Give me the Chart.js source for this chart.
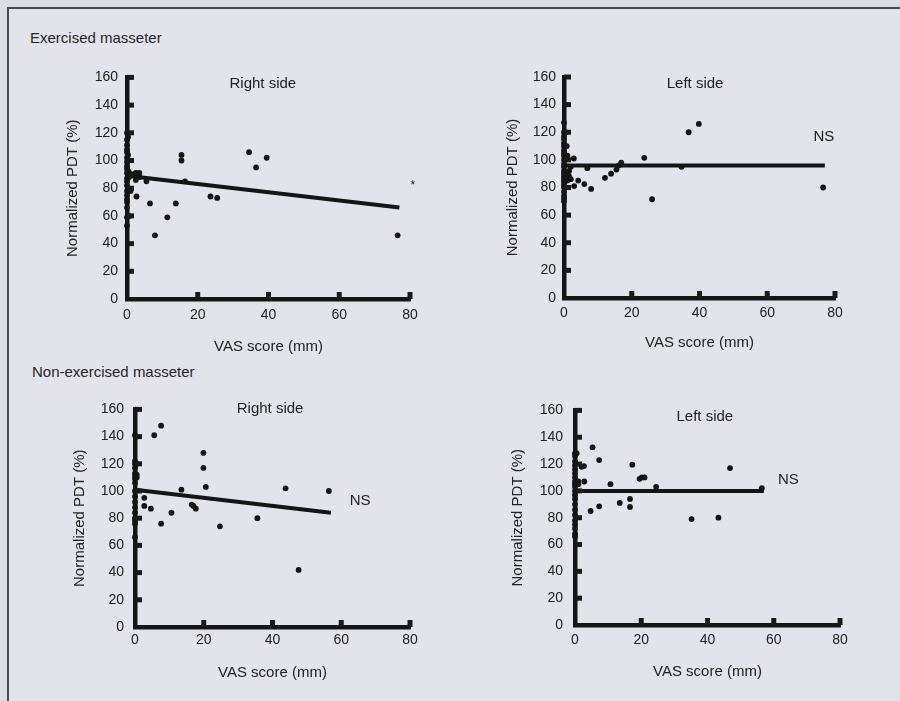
<!DOCTYPE html>
<html>
<head>
<meta charset="utf-8">
<script src="https://cdn.jsdelivr.net/npm/chart.js@4.4.0/dist/chart.umd.min.js"></script>
<style>
    body { margin: 0; background: #dcdde3; }
    #page { position: relative; width: 900px; height: 701px; overflow: hidden; }
    #frame { position: absolute; left: 7px; top: 7px; width: 900px; height: 700px;
             border-left: 2px solid #4a4a4a; border-top: 2px solid #4a4a4a; background: #e3e4eb; }
    .lbl { position: absolute; font: 15px 'Liberation Sans', Arial, sans-serif; color: #262626; white-space: nowrap; }
    canvas { position: absolute; }
</style>
</head>
<body>
<div id="page">
    <div id="frame"></div>
    <div class="lbl" style="left:30px; top:29px;">Exercised masseter</div>
    <div class="lbl" style="left:32px; top:363px;">Non-exercised masseter</div>
    <canvas id="exRight" width="420" height="300" style="left:40px; top:60px;"></canvas>
    <canvas id="exLeft" width="400" height="300" style="left:480px; top:60px;"></canvas>
    <canvas id="nonRight" width="420" height="300" style="left:40px; top:390px;"></canvas>
    <canvas id="nonLeft" width="400" height="300" style="left:480px; top:390px;"></canvas>
</div>

<script>
// Общие деления осей
const xTicks = [0, 20, 40, 60, 80];
const yTicks = [0, 20, 40, 60, 80, 100, 120, 140, 160];

// Exercised masseter, правая сторона
const exRightVas = [0, 0, 0, 0, 0, 0, 0, 0, 0, 0, 0, 0, 0, 0, 0, 0, 0, 0, 0, 0,
    0.3, 0.3, 0.3, 0.6, 0.6,
    0.5, 1, 1.5, 2.5, 2.5, 2.7, 3.5, 3.5, 5.5, 6.5, 7.9, 11.4, 13.8, 15.4, 15.4, 16.4, 23.6, 25.5, 34.5, 36.5, 39.5, 76.5];
const exRightPdt = [120, 115, 111, 108, 106, 102, 99, 96, 94, 91, 87, 85, 82, 78, 75, 72, 70, 66, 59, 53,
    117, 104, 80, 88, 60,
    92, 78, 90, 86, 91, 74, 91, 88, 85, 69, 46, 59, 69, 104, 100, 85, 74, 73, 106, 95, 102, 46];
const exRightFitVas = [0, 77];
const exRightFitPdt = [89, 66];

// Exercised masseter, левая сторона
const exLeftVas = [0, 0, 0, 0, 0, 0, 0, 0, 0, 0, 0, 0, 0, 0, 0, 0, 0, 0, 0, 0, 0, 0, 0,
    0.5, 0.8, 1, 1, 1.5, 2, 1, 1.5, 2, 2.9, 3, 4.2, 6, 6.9, 8, 12.1, 13.9, 15.5, 16.2, 16.9, 23.7, 26, 34.7, 36.8, 39.8, 76.5];
const exLeftPdt = [127, 120, 117, 115, 112, 110, 107, 105, 103, 100, 97, 95, 92, 90, 88, 86, 84, 82, 80, 77, 74, 72, 70,
    120, 110, 103, 90, 88, 86, 85, 92, 95, 101, 81, 85, 82.5, 94, 79, 87, 90, 93, 96, 98, 101.5, 71.5, 95, 120, 126, 80];
const exLeftFitVas = [0, 77];
const exLeftFitPdt = [96, 96];

// Non-exercised masseter, правая сторона
const nonRightVas = [0, 0, 0, 0, 0, 0, 0, 0, 0, 0, 0, 0, 0, 0, 0, 0, 0, 0.5, 0.5, 0.5, 0.5,
    2.7, 2.7, 4.6, 5.6, 7.6, 7.6, 10.6, 13.5, 16.5, 17, 17.7, 19.9, 19.9, 20.6, 24.7, 35.6, 43.8, 47.6, 56.4];
const nonRightPdt = [141, 122, 120, 117, 113, 111, 109, 106, 100, 96, 92, 88, 84, 80, 78, 76, 66, 140, 120, 110, 112,
    95, 89, 87, 141, 148, 76, 84, 101, 90, 89, 87, 128, 117, 103, 74, 80, 102, 42, 100];
const nonRightFitVas = [0, 57];
const nonRightFitPdt = [101, 84];

// Non-exercised masseter, левая сторона
const nonLeftVas = [0, 0, 0, 0, 0, 0, 0, 0, 0, 0, 0, 0, 0, 0, 0, 0, 0, 0, 0, 0, 0,
    0.5, 1, 1, 2, 2.8, 2.7, 4.7, 5.3, 7.3, 7.3, 10.7, 13.5, 16.6, 16.6, 17.3, 19.5, 20.2, 21, 24.5, 35.2, 43.3, 46.8, 56.4];
const nonLeftPdt = [128, 126, 122, 119, 116, 113, 110, 107, 105, 103, 100, 97, 94, 90, 86, 82, 78, 75, 72, 68, 66,
    128, 107, 105, 118, 107, 118.5, 85, 132.5, 123, 88.5, 105, 91, 94, 88, 119.5, 109, 110, 110, 103, 79, 80, 117, 102];
const nonLeftFitVas = [0, 57];
const nonLeftFitPdt = [100, 100];

const INK = '#222222';
const FONT = "'Liberation Sans', Arial, sans-serif";

function toPoints(xs, ys) {
    return xs.map((x, i) => ({ x: x, y: ys[i] }));
}

// Метки внутри области графика и засечки внутрь осей
const panelDecor = {
    id: 'panelDecor',
    afterDraw(chart, args, opts) {
        const ctx = chart.ctx;
        const xs = chart.scales.x, ys = chart.scales.y;
        const x0 = xs.getPixelForValue(0), y0 = ys.getPixelForValue(0);
        ctx.save();
        ctx.fillStyle = '#1a1a1a';
        yTicks.forEach(v => {
            if (v === 0) return;
            const py = ys.getPixelForValue(v);
            ctx.fillRect(x0, py - 2.5, 7, 5);
        });
        xTicks.forEach(v => {
            if (v === 0) return;
            const px = xs.getPixelForValue(v);
            ctx.fillRect(px - 2.5, y0 - 7, 5, 7);
        });
        ctx.fillStyle = INK;
        ctx.textAlign = 'center';
        ctx.textBaseline = 'middle';
        (opts.notes || []).forEach(n => {
            ctx.font = (n.size || 15) + 'px ' + FONT;
            ctx.fillText(n.text, xs.getPixelForValue(n.x), ys.getPixelForValue(n.y));
        });
        ctx.restore();
    }
};

function makePanel(id, vas, pdt, fitVas, fitPdt, box, notes) {
    const ctx = document.getElementById(id).getContext('2d');
    return new Chart(ctx, {
        type: 'scatter',
        data: {
            datasets: [
                {
                    data: toPoints(vas, pdt),
                    backgroundColor: '#151515',
                    borderWidth: 0,
                    pointRadius: 2.9,
                    clip: false
                },
                {
                    type: 'line',
                    data: toPoints(fitVas, fitPdt),
                    borderColor: '#151515',
                    borderWidth: 4,
                    pointRadius: 0,
                    fill: false,
                    clip: false
                }
            ]
        },
        options: {
            responsive: false,
            devicePixelRatio: 1,
            animation: false,
            events: [],
            layout: { padding: { top: box.padTop, right: box.padRight, bottom: 0, left: 0 } },
            plugins: {
                legend: { display: false },
                tooltip: { enabled: false },
                panelDecor: { notes: notes }
            },
            scales: {
                x: {
                    type: 'linear',
                    min: 0,
                    max: 80,
                    afterBuildTicks: s => { s.ticks = xTicks.map(v => ({ value: v })); },
                    afterFit: s => { s.height = box.xHeight; },
                    grid: { display: false, drawTicks: false },
                    border: { display: true, color: '#151515', width: 4.5 },
                    ticks: { color: INK, padding: box.xTickPad, font: { family: FONT, size: 14 }, maxRotation: 0 },
                    title: {
                        display: true,
                        text: 'VAS score (mm)',
                        color: INK,
                        font: { family: FONT, size: 15 },
                        padding: { top: 0, bottom: box.xTitlePad }
                    }
                },
                y: {
                    type: 'linear',
                    min: 0,
                    max: 160,
                    afterBuildTicks: s => { s.ticks = yTicks.map(v => ({ value: v })); },
                    afterFit: s => { s.width = box.yWidth; },
                    grid: { display: false, drawTicks: false },
                    border: { display: true, color: '#151515', width: 4.5 },
                    ticks: { color: INK, padding: box.yTickPad, font: { family: FONT, size: 14 } },
                    title: {
                        display: true,
                        text: 'Normalized PDT (%)',
                        color: INK,
                        font: { family: FONT, size: 15 },
                        padding: { top: box.yTitlePad, bottom: 0 }
                    }
                }
            }
        },
        plugins: [panelDecor]
    });
}

makePanel('exRight', exRightVas, exRightPdt, exRightFitVas, exRightFitPdt,
    { padTop: 17, padRight: 50, yWidth: 87, xHeight: 61, xTickPad: 8, xTitlePad: 4, yTickPad: 9, yTitlePad: 24 },
    [{ text: 'Right side', x: 38.4, y: 155 }, { text: '*', x: 80.8, y: 82, size: 12 }]);

makePanel('exLeft', exLeftVas, exLeftPdt, exLeftFitVas, exLeftFitPdt,
    { padTop: 17, padRight: 45, yWidth: 84, xHeight: 62, xTickPad: 7, xTitlePad: 8, yTickPad: 8, yTitlePad: 24 },
    [{ text: 'Left side', x: 38.7, y: 155 }, { text: 'NS', x: 76.7, y: 117 }]);

makePanel('nonRight', nonRightVas, nonRightPdt, nonRightFitVas, nonRightFitPdt,
    { padTop: 19, padRight: 50, yWidth: 95, xHeight: 63, xTickPad: 5, xTitlePad: 8, yTickPad: 11, yTitlePad: 31 },
    [{ text: 'Right side', x: 39.3, y: 160.5 }, { text: 'NS', x: 65.5, y: 93 }]);

makePanel('nonLeft', nonLeftVas, nonLeftPdt, nonLeftFitVas, nonLeftFitPdt,
    { padTop: 14, padRight: 40, yWidth: 95, xHeight: 65, xTickPad: 7, xTitlePad: 9, yTickPad: 12, yTitlePad: 29 },
    [{ text: 'Left side', x: 39.2, y: 155.5 }, { text: 'NS', x: 64.4, y: 108 }]);
</script>
</body>
</html>
